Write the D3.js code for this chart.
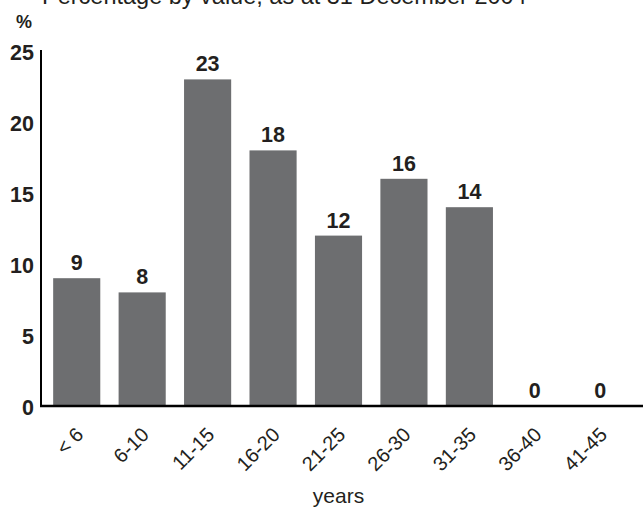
<!DOCTYPE html>
<html>
<head>
<meta charset="utf-8">
<script src="https://cdn.jsdelivr.net/npm/d3@7"></script>
<style>
  html, body { margin: 0; padding: 0; background: #fff; }
  svg { display: block; }
  text { font-family: "Liberation Sans", Arial, Helvetica, sans-serif; fill: #231f20; }
</style>
</head>
<body>
<svg id="chart" width="643" height="509"></svg>
<script>
// Remaining term of holdings, percentage by value
const categories = ["< 6", "6-10", "11-15", "16-20", "21-25", "26-30", "31-35", "36-40", "41-45"];
const percentages = [9, 8, 23, 18, 12, 16, 14, 0, 0];
const yTicks = [0, 5, 10, 15, 20, 25];

const titleText = "Percentage by value, as at 31 December 2004";
const yUnit = "%";
const xTitle = "years";

const svg = d3.select("#chart");

const x = d3.scaleBand()
  .domain(categories)
  .range([44, 633])
  .paddingInner(0.28)
  .paddingOuter(0.14);

const y = d3.scaleLinear()
  .domain([0, 25])
  .range([406, 51]);

const barColor = "#6d6e70";
const ink = "#231f20";

// Title (sits partly above the top edge)
svg.append("text")
  .attr("x", 42)
  .attr("y", 4)
  .style("font-size", "23.5px")
  .text(titleText);

// Unit label
svg.append("text")
  .attr("x", 24)
  .attr("y", 28)
  .attr("text-anchor", "middle")
  .style("font-size", "18px")
  .style("font-weight", "bold")
  .text(yUnit);

// Bars
svg.append("g")
  .selectAll("rect")
  .data(percentages)
  .join("rect")
  .attr("x", (d, i) => x(categories[i]))
  .attr("width", x.bandwidth())
  .attr("y", d => y(d))
  .attr("height", d => y(0) - y(d))
  .attr("fill", barColor);

// Value labels above bars
svg.append("g")
  .selectAll("text")
  .data(percentages)
  .join("text")
  .attr("x", (d, i) => x(categories[i]) + x.bandwidth() / 2)
  .attr("y", d => y(d) - 8)
  .attr("text-anchor", "middle")
  .style("font-size", "21.5px")
  .style("font-weight", "bold")
  .text(d => d);

// Y axis: tick labels, no tick marks
const yAxis = svg.append("g")
  .attr("transform", "translate(40,0)")
  .call(d3.axisLeft(y).tickValues(yTicks).tickSize(0).tickPadding(6));
yAxis.select(".domain").remove();
yAxis.selectAll("text")
  .attr("dy", "0.32em")
  .attr("y", 2)
  .style("font-size", "21.5px")
  .style("font-weight", "bold")
  .style("font-family", "'Liberation Sans', Arial, sans-serif")
  .attr("fill", ink);

// Axis lines
svg.append("line")
  .attr("x1", 41).attr("x2", 41)
  .attr("y1", y(25) - 1).attr("y2", y(0) + 1)
  .attr("stroke", "#000").attr("stroke-width", 2);
svg.append("line")
  .attr("x1", 40).attr("x2", 643)
  .attr("y1", y(0)).attr("y2", y(0))
  .attr("stroke", "#000").attr("stroke-width", 2.5);

// X axis: rotated category labels
const xAxis = svg.append("g")
  .attr("transform", `translate(0,${y(0)})`)
  .call(d3.axisBottom(x).tickSize(0).tickPadding(0));
xAxis.select(".domain").remove();
xAxis.selectAll(".tick text")
  .attr("text-anchor", "end")
  .attr("dy", null)
  .attr("y", null)
  .attr("transform", "translate(8,30) rotate(-45)")
  .style("font-size", "20px")
  .style("font-family", "'Liberation Sans', Arial, sans-serif")
  .attr("fill", ink);

// X axis title
svg.append("text")
  .attr("x", (x.range()[0] + x.range()[1]) / 2)
  .attr("y", 503)
  .attr("text-anchor", "middle")
  .style("font-size", "21px")
  .text(xTitle);
</script>
</body>
</html>
